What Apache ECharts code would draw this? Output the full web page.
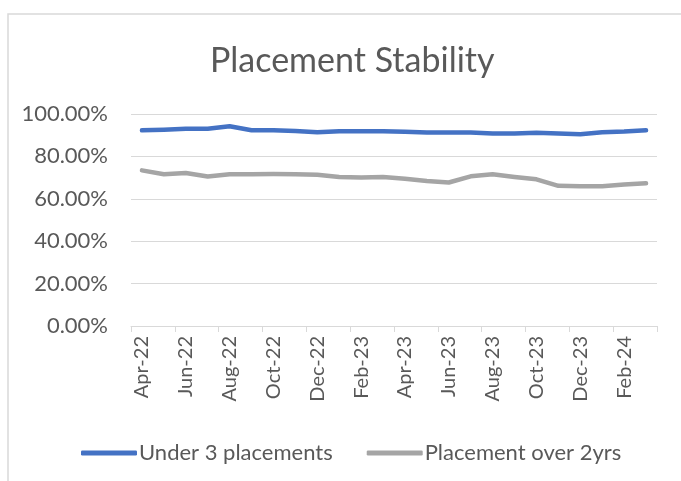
<!DOCTYPE html>
<html>
<head>
<meta charset="utf-8">
<script src="https://cdn.jsdelivr.net/npm/echarts@6/dist/echarts.min.js"></script>
<style>
  html, body { margin: 0; padding: 0; background: #fff; }
  #chart { width: 681px; height: 481px; }
</style>
</head>
<body>
<div id="chart"></div>
<script>
// months Apr-22 .. Mar-24
var months = ['Apr-22', 'May-22', 'Jun-22', 'Jul-22', 'Aug-22', 'Sep-22', 'Oct-22', 'Nov-22',
    'Dec-22', 'Jan-23', 'Feb-23', 'Mar-23', 'Apr-23', 'May-23', 'Jun-23', 'Jul-23',
    'Aug-23', 'Sep-23', 'Oct-23', 'Nov-23', 'Dec-23', 'Jan-24', 'Feb-24', 'Mar-24'];
var under3 = [92.3, 92.6, 93.1, 93.0, 94.2, 92.3, 92.3, 92.0, 91.4, 91.9, 91.9, 91.9,
    91.6, 91.3, 91.3, 91.3, 90.8, 90.8, 91.1, 90.8, 90.5, 91.4, 91.7, 92.3];
var over2yrs = [73.4, 71.6, 72.2, 70.5, 71.6, 71.6, 71.7, 71.6, 71.3, 70.3, 70.0, 70.3,
    69.5, 68.4, 67.7, 70.6, 71.6, 70.3, 69.2, 66.1, 65.9, 65.9, 66.7, 67.3];
var seriesNames = ['Under 3 placements', 'Placement over 2yrs'];

var font = 'Lato, "Open Sans", sans-serif';
var chart = echarts.init(document.getElementById('chart'));

chart.setOption({
    animation: false,
    backgroundColor: '#fff',
    textStyle: { fontFamily: font },
    title: {
        text: 'Placement Stability',
        left: 205,
        top: 39,
        textStyle: { fontFamily: font, fontSize: 34, fontWeight: 'normal', color: '#595959' }
    },
    // the chart area frame
    graphic: [{
        type: 'rect',
        shape: { x: 8, y: 14, width: 700, height: 500 },
        style: { fill: 'none', stroke: '#d9d9d9', lineWidth: 1.5 },
        silent: true
    }],
    legend: {
        top: 437,
        left: 76,
        itemWidth: 56,
        itemHeight: 5,
        itemGap: 34,
        icon: 'roundRect',
        textStyle: { fontFamily: font, fontSize: 22, color: '#595959', padding: [0, 0, 0, -3] },
        data: seriesNames
    },
    grid: { left: 131, right: 24, top: 114, bottom: 155 },
    xAxis: {
        type: 'category',
        data: months,
        boundaryGap: true,
        axisLine: { lineStyle: { color: '#d9d9d9', width: 1 } },
        axisTick: { show: true, interval: 1, length: 6, lineStyle: { color: '#d9d9d9' } },
        axisLabel: {
            interval: 1,
            rotate: 90,
            fontFamily: font,
            fontSize: 20,
            color: '#595959',
            margin: 10
        }
    },
    yAxis: {
        type: 'value',
        min: 0,
        max: 100,
        interval: 20,
        axisLine: { show: false },
        axisTick: { show: false },
        splitLine: { lineStyle: { color: '#d9d9d9', width: 1 } },
        axisLabel: {
            fontFamily: font,
            fontSize: 22,
            color: '#595959',
            margin: 23,
            formatter: function(v) { return v.toFixed(2) + '%'; }
        }
    },
    series: [{
        name: seriesNames[0],
        type: 'line',
        data: under3,
        showSymbol: false,
        lineStyle: { color: '#4472C4', width: 4.5, cap: 'round', join: 'round' },
        itemStyle: { color: '#4472C4' }
    }, {
        name: seriesNames[1],
        type: 'line',
        data: over2yrs,
        showSymbol: false,
        lineStyle: { color: '#A5A5A5', width: 4.5, cap: 'round', join: 'round' },
        itemStyle: { color: '#A5A5A5' }
    }]
});
</script>
</body>
</html>
